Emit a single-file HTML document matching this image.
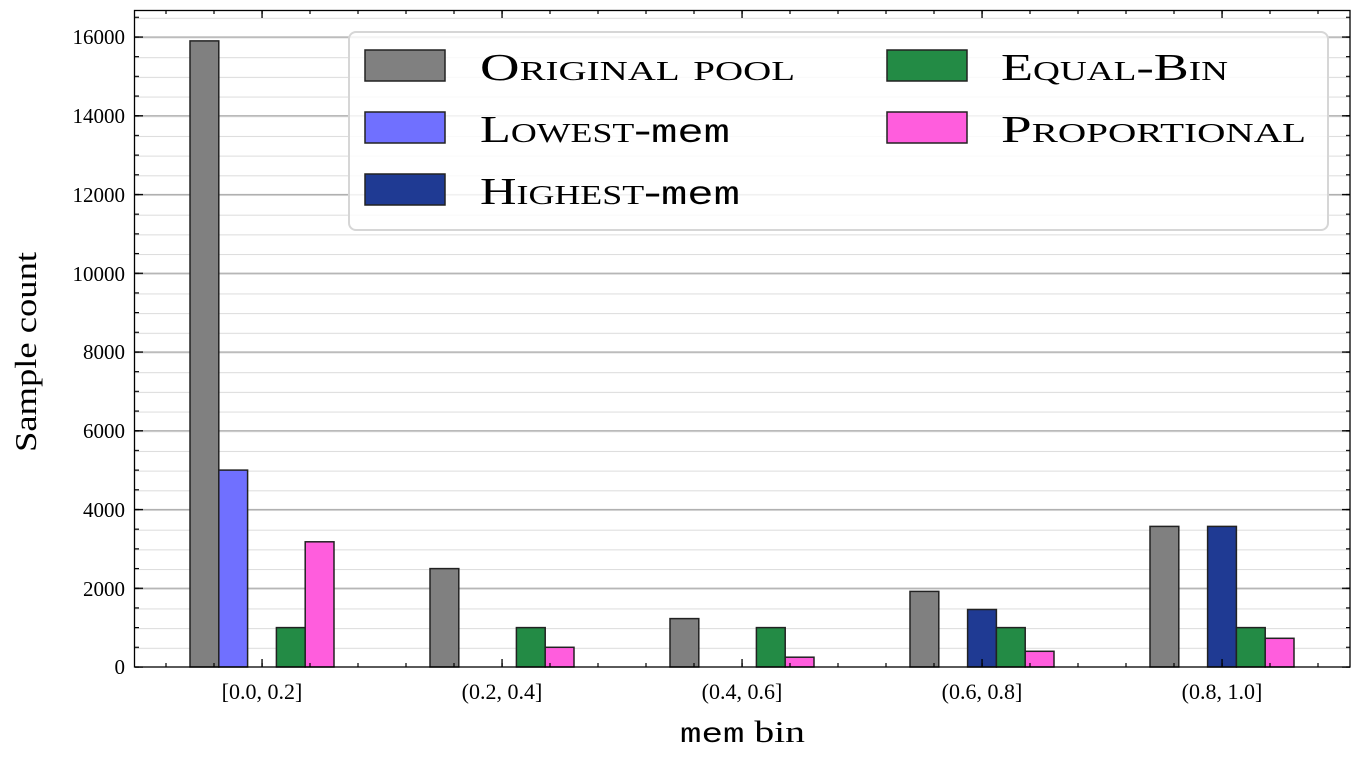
<!DOCTYPE html>
<html><head><meta charset="utf-8"><style>
html,body{margin:0;padding:0;background:#fff;}
svg{display:block;font-family:"Liberation Serif",serif;}
.sc{font-variant:small-caps;}
</style></head><body>
<svg width="1360" height="760" viewBox="0 0 1360 760" xmlns="http://www.w3.org/2000/svg">
<defs>
<pattern id="gmin" patternUnits="userSpaceOnUse" x="0" y="667.5" width="20" height="19.6875"><rect x="0" y="0" width="20" height="1" fill="#dcdcdc"/></pattern>
<pattern id="gmaj" patternUnits="userSpaceOnUse" x="0" y="666.4" width="20" height="78.75"><rect x="0" y="0" width="20" height="1.3" fill="#adadad"/></pattern>
<pattern id="tmin" patternUnits="userSpaceOnUse" x="0" y="666.4" width="20" height="19.6875"><rect x="0" y="0" width="20" height="1.2" fill="#000"/></pattern>
<pattern id="tmaj" patternUnits="userSpaceOnUse" x="0" y="666.4" width="20" height="78.75"><rect x="0" y="0" width="20" height="1.3" fill="#000"/></pattern>
<pattern id="xmin" patternUnits="userSpaceOnUse" x="165.4" y="0" width="48" height="20"><rect x="0" y="0" width="1.2" height="20" fill="#000"/></pattern>
<pattern id="xmaj" patternUnits="userSpaceOnUse" x="261.4" y="0" width="240" height="20"><rect x="0" y="0" width="1.3" height="20" fill="#000"/></pattern>
</defs>
<rect x="0" y="0" width="1360" height="760" fill="#fff"/>
<rect x="135" y="12" width="1215" height="650" fill="url(#gmin)"/>
<rect x="135" y="12" width="1215" height="650" fill="url(#gmaj)"/>
<g stroke="#222" stroke-width="1.5">
<rect x="190" y="40.9" width="28.8" height="626.1" fill="#808080"/>
<rect x="218.8" y="470.1" width="28.8" height="196.9" fill="#7070ff"/>
<rect x="276.4" y="627.6" width="28.8" height="39.4" fill="#238b45"/>
<rect x="305.2" y="541.8" width="28.8" height="125.2" fill="#ff5ddd"/>

<rect x="430" y="568.6" width="28.8" height="98.4" fill="#808080"/>
<rect x="516.4" y="627.6" width="28.8" height="39.4" fill="#238b45"/>
<rect x="545.2" y="647.3" width="28.8" height="19.7" fill="#ff5ddd"/>

<rect x="670" y="618.6" width="28.8" height="48.4" fill="#808080"/>
<rect x="756.4" y="627.6" width="28.8" height="39.4" fill="#238b45"/>
<rect x="785.2" y="657.2" width="28.8" height="9.8" fill="#ff5ddd"/>

<rect x="910" y="591.4" width="28.8" height="75.6" fill="#808080"/>
<rect x="967.6" y="609.5" width="28.8" height="57.5" fill="#1f3a93"/>
<rect x="996.4" y="627.6" width="28.8" height="39.4" fill="#238b45"/>
<rect x="1025.2" y="651.3" width="28.8" height="15.7" fill="#ff5ddd"/>

<rect x="1150" y="526.4" width="28.8" height="140.6" fill="#808080"/>
<rect x="1207.6" y="526.4" width="28.8" height="140.6" fill="#1f3a93"/>
<rect x="1236.4" y="627.6" width="28.8" height="39.4" fill="#238b45"/>
<rect x="1265.2" y="638.3" width="28.8" height="28.7" fill="#ff5ddd"/>
</g>
<!-- ticks -->
<rect x="135" y="12" width="4" height="656" fill="url(#tmin)"/>
<rect x="135" y="12" width="8" height="656" fill="url(#tmaj)"/>
<rect x="1346" y="12" width="4" height="656" fill="url(#tmin)"/>
<rect x="1342" y="12" width="8" height="656" fill="url(#tmaj)"/>
<rect x="136" y="663" width="1213" height="4" fill="url(#xmin)"/>
<rect x="136" y="659" width="1213" height="8" fill="url(#xmaj)"/>
<rect x="136" y="10" width="1213" height="4" fill="url(#xmin)"/>
<rect x="136" y="10" width="1213" height="8" fill="url(#xmaj)"/>
<rect x="134.5" y="10.5" width="1215.5" height="656.5" fill="none" stroke="#000" stroke-width="1.3"/>
<!-- legend -->
<rect x="349" y="32" width="979" height="198" rx="7" fill="#fff" fill-opacity="0.82" stroke="#d6d6d6" stroke-width="2"/>
<g stroke="#222" stroke-width="1.5">
<rect x="365" y="50" width="80" height="31" fill="#808080"/>
<rect x="365" y="112" width="80" height="31" fill="#7070ff"/>
<rect x="365" y="174" width="80" height="31" fill="#1f3a93"/>
<rect x="887" y="50" width="80" height="31" fill="#238b45"/>
<rect x="887" y="112" width="80" height="31" fill="#ff5ddd"/>
</g>
<g font-size="38" fill="#000">
<text x="480" y="80" class="sc" textLength="315" lengthAdjust="spacingAndGlyphs">Original pool</text>
<text x="480" y="142" textLength="250" lengthAdjust="spacingAndGlyphs"><tspan class="sc">Lowest-</tspan><tspan font-family="Liberation Mono,monospace" font-size="33">mem</tspan></text>
<text x="480" y="204" textLength="260" lengthAdjust="spacingAndGlyphs"><tspan class="sc">Highest-</tspan><tspan font-family="Liberation Mono,monospace" font-size="33">mem</tspan></text>
<text x="1001" y="80" class="sc" textLength="227" lengthAdjust="spacingAndGlyphs">Equal-Bin</text>
<text x="1001" y="142" class="sc" textLength="305" lengthAdjust="spacingAndGlyphs">Proportional</text>
</g>
<g font-size="21" text-anchor="end" fill="#000">
<text x="125" y="674">0</text>
<text x="125" y="596">2000</text>
<text x="125" y="517">4000</text>
<text x="125" y="438">6000</text>
<text x="125" y="359">8000</text>
<text x="125" y="281">10000</text>
<text x="125" y="202">12000</text>
<text x="125" y="123">14000</text>
<text x="125" y="44">16000</text>
</g>
<g font-size="22" text-anchor="middle" fill="#000">
<text x="262" y="699">[0.0, 0.2]</text>
<text x="502" y="699">(0.2, 0.4]</text>
<text x="742" y="699">(0.4, 0.6]</text>
<text x="982" y="699">(0.6, 0.8]</text>
<text x="1222" y="699">(0.8, 1.0]</text>
</g>
<text x="680" y="742" font-size="31" textLength="125" lengthAdjust="spacingAndGlyphs"><tspan font-family="Liberation Mono,monospace" font-size="28">mem</tspan> bin</text>
<text transform="translate(36,352) rotate(-90)" font-size="31" text-anchor="middle" textLength="200" lengthAdjust="spacingAndGlyphs">Sample count</text>
</svg>
</body></html>
